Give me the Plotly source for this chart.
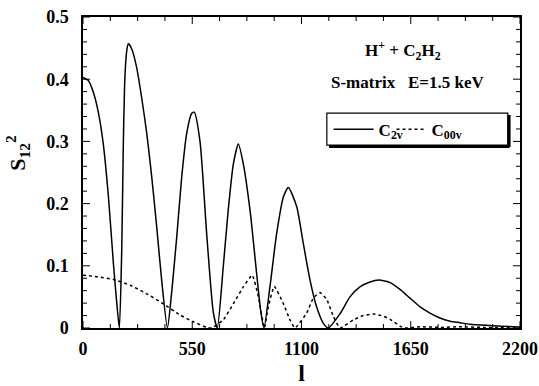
import plotly.graph_objects as go

# C2v (solid)
l_c2v = [0, 27, 52, 77, 102, 128, 153, 170, 183, 195, 203, 211, 220, 228, 245, 270, 295, 321, 346, 371, 396, 425,
         446, 472, 497, 522, 547, 560, 589, 623, 656, 676, 706, 731, 757, 782, 807, 841, 874, 894, 911,
         941, 975, 1009, 1034, 1076, 1109, 1143, 1176, 1210, 1235, 1294, 1344, 1394, 1445, 1490, 1546,
         1596, 1646, 1697, 1747, 1797, 1848, 1898, 1948, 2049, 2165, 2200]
s_c2v = [0.403, 0.398, 0.379, 0.347, 0.296, 0.211, 0.104, 0.040, 0.0, 0.125, 0.296, 0.403, 0.445, 0.457, 0.449,
         0.419, 0.371, 0.313, 0.243, 0.163, 0.077, 0.0, 0.056, 0.147, 0.243, 0.313, 0.345, 0.347, 0.300,
         0.150, 0.025, 0.0, 0.098, 0.189, 0.264, 0.296, 0.264, 0.189, 0.088, 0.029, 0.0, 0.066, 0.152,
         0.211, 0.226, 0.195, 0.136, 0.077, 0.034, 0.0075, 0.0, 0.023, 0.050, 0.066, 0.074, 0.077, 0.073,
         0.062, 0.048, 0.034, 0.024, 0.016, 0.011, 0.0085, 0.006, 0.004, 0.002, 0.0015]

# C00v (dotted)
l_c00v = [0, 69, 153, 237, 321, 404, 488, 555, 623, 648, 706, 757, 807, 852, 883, 913, 933, 963, 1009, 1042,
          1067, 1126, 1159, 1193, 1227, 1260, 1294, 1361, 1411, 1462, 1512, 1546, 1596, 1620, 1700, 1800,
          1900, 2000, 2100, 2200]
s_c00v = [0.085, 0.0825, 0.078, 0.069, 0.055, 0.039, 0.021, 0.010, 0.001, 0.0, 0.013, 0.039, 0.066, 0.085,
          0.050, 0.0, 0.034, 0.067, 0.039, 0.013, 0.0, 0.024, 0.048, 0.057, 0.046, 0.019, 0.0, 0.013, 0.020,
          0.0225, 0.019, 0.014, 0.003, 0.0, 0.002, 0.001, 0.002, 0.001, 0.0005, 0.0]

x_range = [0, 2200]
y_range = [0, 0.5]
x_ticks = [0, 550, 1100, 1650, 2200]
x_minor_ticks = [137.5 * i for i in range(17)]
y_ticks = [0, 0.1, 0.2, 0.3, 0.4, 0.5]
y_minor_ticks = [round(0.02 * i, 2) for i in range(26)]

FONT = "Liberation Serif"
W, H = 539, 386
M = dict(l=83, r=19, t=17, b=58)
plot_w = W - M["l"] - M["r"]
plot_h = H - M["t"] - M["b"]

fig = go.Figure()
fig.add_trace(go.Scatter(x=l_c2v, y=s_c2v, mode="lines", name="C<sub>2v</sub>", legend="legend",
                         line=dict(color="black", width=1.5, shape="spline", smoothing=0.6)))
fig.add_trace(go.Scatter(x=l_c00v, y=s_c00v, mode="lines", name="C<sub>00v</sub>", legend="legend2",
                         line=dict(color="black", width=1.5, dash="dot", shape="spline", smoothing=0.4)))

tickfont = dict(family=FONT, size=18, color="black", weight="bold")

fig.update_layout(
    xaxis=dict(range=x_range, tickvals=x_ticks, ticktext=[str(v) for v in x_ticks],
               showgrid=False, zeroline=False, showline=True, linecolor="black", linewidth=1.5,
               mirror=True, ticks="", tickfont=tickfont, ticklabelstandoff=4,
               title=dict(text="l", font=dict(family=FONT, size=24, color="black", weight="bold"), standoff=6)),
    yaxis=dict(range=y_range, tickvals=y_ticks, ticktext=["0", "0.1", "0.2", "0.3", "0.4", "0.5"],
               showgrid=False, zeroline=False, showline=True, linecolor="black", linewidth=1.5,
               mirror=True, ticks="", tickfont=tickfont, ticklabelstandoff=9),
)

# inside tick marks on all four sides (positions through the data axes)
def add_xtick(v, length_px):
    L = length_px / plot_h
    for y0, y1 in ((0, L), (1, 1 - L)):
        fig.add_shape(type="line", xref="x", yref="paper", x0=v, x1=v, y0=y0, y1=y1,
                      line=dict(color="black", width=1))

def add_ytick(v, length_px):
    L = length_px / plot_w
    for x0, x1 in ((0, L), (1, 1 - L)):
        fig.add_shape(type="line", xref="paper", yref="y", x0=x0, x1=x1, y0=v, y1=v,
                      line=dict(color="black", width=1))

for v in x_minor_ticks:
    add_xtick(v, 7 if v in x_ticks else 4)
for v in y_minor_ticks:
    add_ytick(v, 7 if any(abs(v - t) < 1e-9 for t in y_ticks) else 4)

# y-axis title placed like the reference
fig.add_annotation(text="S<sub>12</sub><sup>2</sup>", xref="paper", yref="paper",
                   x=-0.15, y=0.565, xanchor="center", yanchor="middle", textangle=-90, showarrow=False,
                   font=dict(family=FONT, size=22, color="black", weight="bold"))

# legend frame with shadow
fig.add_shape(type="rect", xref="paper", yref="paper", x0=0.558, x1=0.972, y0=0.588, y1=0.691,
              line=dict(color="black", width=1.2), fillcolor="white", layer="below")
fig.add_shape(type="line", xref="paper", yref="paper", x0=0.975, x1=0.975, y0=0.582, y1=0.685,
              line=dict(color="black", width=3))
fig.add_shape(type="line", xref="paper", yref="paper", x0=0.563, x1=0.976, y0=0.584, y1=0.584,
              line=dict(color="black", width=3))

fig.add_annotation(text="H<sup>+</sup> + C<sub>2</sub>H<sub>2</sub>", xref="paper", yref="paper",
                   x=0.732, y=0.893, xanchor="center", yanchor="middle", showarrow=False,
                   font=dict(family=FONT, size=17, color="black", weight="bold"))
fig.add_annotation(text="S-matrix&nbsp;&nbsp;&nbsp;E=1.5 keV", xref="paper", yref="paper",
                   x=0.743, y=0.79, xanchor="center", yanchor="middle", showarrow=False,
                   font=dict(family=FONT, size=17, color="black", weight="bold"))

legend_font = dict(family=FONT, size=17, color="black", weight="bold")
fig.update_layout(
    width=W, height=H,
    margin=dict(**M, autoexpand=False),
    paper_bgcolor="white", plot_bgcolor="white",
    showlegend=True,
    legend=dict(orientation="h", x=0.562, y=0.638, xanchor="left", yanchor="middle",
                bgcolor="rgba(0,0,0,0)", borderwidth=0, font=legend_font, itemwidth=40),
    legend2=dict(orientation="h", x=0.706, y=0.638, xanchor="left", yanchor="middle",
                 bgcolor="rgba(0,0,0,0)", borderwidth=0, font=legend_font, itemwidth=30),
)

fig.write_html("out.html")
